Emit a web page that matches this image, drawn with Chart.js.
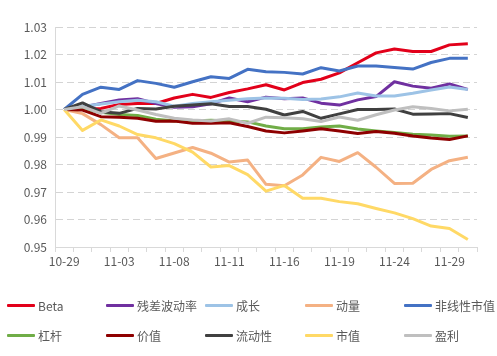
<!DOCTYPE html>
<html>
<head>
<meta charset="utf-8">
<script src="https://cdn.jsdelivr.net/npm/chart.js@4.4.1/dist/chart.umd.min.js"></script>
<style>
  html, body { margin: 0; padding: 0; background: #ffffff; }
  #wrap { position: relative; width: 497px; height: 356px; }
  #c { position: absolute; left: 0; top: 0; }
  .lg { position: absolute; height: 16px; display: flex; align-items: center;
        font-family: 'Noto Sans CJK SC', 'Liberation Sans', sans-serif; font-size: 12px; color: #595959; white-space: nowrap; }
  .lg i { display: inline-block; width: 28px; height: 3px; margin-right: 3px; border-radius: 1px; }
</style>
</head>
<body>
<div id="wrap">
  <canvas id="c" width="497" height="356"></canvas>
</div>
<script>
const dates = ['10-29','11-01','11-02','11-03','11-04','11-05','11-08','11-09','11-10','11-11','11-12','11-15','11-16','11-17','11-18','11-19','11-22','11-23','11-24','11-25','11-26','11-29','11-30'];
const yTicks = [0.95, 0.96, 0.97, 0.98, 0.99, 1.00, 1.01, 1.02, 1.03];

const seriesNames = ['Beta','残差波动率','成长','动量','非线性市值','杠杆','价值','流动性','市值','盈利'];
const seriesColors = ['#E2001A','#7030A0','#9DC3E6','#F4B183','#4472C4','#70AD47','#8E0000','#404040','#FFD966','#BFBFBF'];

const beta        = [1.0000,1.0002,1.0004,1.0018,1.0022,1.0022,1.0042,1.0055,1.0044,1.0062,1.0075,1.0090,1.0071,1.0098,1.0110,1.0133,1.0170,1.0206,1.0220,1.0211,1.0211,1.0235,1.0239];
const residVol    = [1.0000,1.0008,1.0022,1.0035,1.0039,1.0022,1.0008,1.0010,1.0021,1.0042,1.0028,1.0045,1.0039,1.0042,1.0023,1.0016,1.0035,1.0047,1.0101,1.0085,1.0077,1.0093,1.0073];
const growth      = [1.0000,1.0012,1.0020,1.0028,1.0034,1.0028,1.0012,1.0022,1.0028,1.0034,1.0039,1.0042,1.0041,1.0036,1.0038,1.0046,1.0060,1.0049,1.0049,1.0059,1.0071,1.0082,1.0073];
const momentum    = [1.0000,0.9985,0.9945,0.9897,0.9897,0.9822,0.9842,0.9862,0.9841,0.9809,0.9816,0.9728,0.9723,0.9762,0.9826,0.9811,0.9843,0.9790,0.9731,0.9732,0.9782,0.9814,0.9826];
const nonlinSize  = [1.0000,1.0055,1.0081,1.0073,1.0105,1.0095,1.0081,1.0101,1.0119,1.0113,1.0146,1.0137,1.0135,1.0129,1.0152,1.0140,1.0158,1.0158,1.0153,1.0147,1.0171,1.0186,1.0186];
const leverage    = [1.0000,1.0002,0.9990,0.9982,0.9978,0.9965,0.9958,0.9958,0.9961,0.9958,0.9955,0.9940,0.9930,0.9930,0.9936,0.9940,0.9929,0.9922,0.9916,0.9910,0.9907,0.9903,0.9904];
const value       = [1.0000,0.9998,0.9974,0.9972,0.9968,0.9957,0.9958,0.9950,0.9950,0.9952,0.9938,0.9922,0.9915,0.9922,0.9930,0.9922,0.9913,0.9920,0.9914,0.9904,0.9896,0.9891,0.9904];
const liquidity   = [1.0000,1.0024,0.9992,0.9986,1.0004,1.0002,1.0012,1.0016,1.0021,1.0011,1.0011,1.0001,0.9980,0.9993,0.9968,0.9984,1.0000,1.0000,1.0002,0.9983,0.9984,0.9985,0.9971];
const size        = [1.0000,0.9924,0.9962,0.9940,0.9909,0.9897,0.9876,0.9845,0.9791,0.9796,0.9763,0.9703,0.9724,0.9677,0.9677,0.9665,0.9657,0.9640,0.9624,0.9603,0.9576,0.9567,0.9527];
const earnings    = [1.0000,1.0010,0.9986,1.0013,0.9998,0.9982,0.9968,0.9962,0.9958,0.9966,0.9950,0.9972,0.9970,0.9966,0.9956,0.9973,0.9961,0.9981,0.9998,1.0010,1.0004,0.9995,1.0001];

const seriesData = [beta, residVol, growth, momentum, nonlinSize, leverage, value, liquidity, size, earnings];

const FONT = "'Noto Sans CJK SC', 'Liberation Sans', sans-serif";

const datasets = seriesNames.map((name, i) => ({
  label: name,
  data: seriesData[i],
  borderColor: seriesColors[i],
  backgroundColor: seriesColors[i],
  borderWidth: 3,
  pointRadius: 0,
  tension: 0,
  fill: false,
  borderJoinStyle: 'round',
  order: seriesNames.length - i
}));

const chart = new Chart(document.getElementById('c'), {
  type: 'line',
  data: { labels: dates, datasets },
  options: {
    responsive: false,
    animation: false,
    devicePixelRatio: 1,
    layout: { padding: { left: 0, right: 20, top: 27, bottom: 89 } },
    plugins: { legend: { display: false }, tooltip: { enabled: false } },
    scales: {
      x: {
        type: 'category',
        offset: true,
        grid: { offset: true, drawOnChartArea: false, drawTicks: true, tickLength: 5, color: '#d9d9d9' },
        border: { display: true, color: '#d9d9d9' },
        ticks: {
          autoSkip: false, maxRotation: 0, minRotation: 0, padding: 2,
          color: '#595959', font: { family: FONT, size: 12 },
          callback: (v, i) => (i % 3 === 0 ? dates[i] : '')
        },
        afterFit: s => { s.height = 20; }
      },
      y: {
        min: yTicks[0], max: yTicks[yTicks.length - 1],
        afterBuildTicks: s => { s.ticks = yTicks.map(v => ({ value: v })); },
        grid: { color: '#d4d4d4', drawTicks: false, lineWidth: 1 },
        border: { display: true, color: '#d9d9d9', dash: [7, 4] },
        ticks: {
          padding: 8, color: '#595959', font: { family: FONT, size: 12 },
          callback: v => Number(v).toFixed(2)
        },
        afterFit: s => { s.width = 55; }
      }
    }
  }
});

// HTML legend generated from the chart datasets
const wrap = document.getElementById('wrap');
const colX = [7, 106, 205, 305, 404];
const rowY = [297, 327];
chart.data.datasets.forEach((ds, i) => {
  const d = document.createElement('div');
  d.className = 'lg';
  d.style.left = colX[i % 5] + 'px';
  d.style.top = rowY[Math.floor(i / 5)] + 'px';
  const sw = document.createElement('i');
  sw.style.background = ds.borderColor;
  d.appendChild(sw);
  d.appendChild(document.createTextNode(ds.label));
  wrap.appendChild(d);
});
</script>
</body>
</html>
